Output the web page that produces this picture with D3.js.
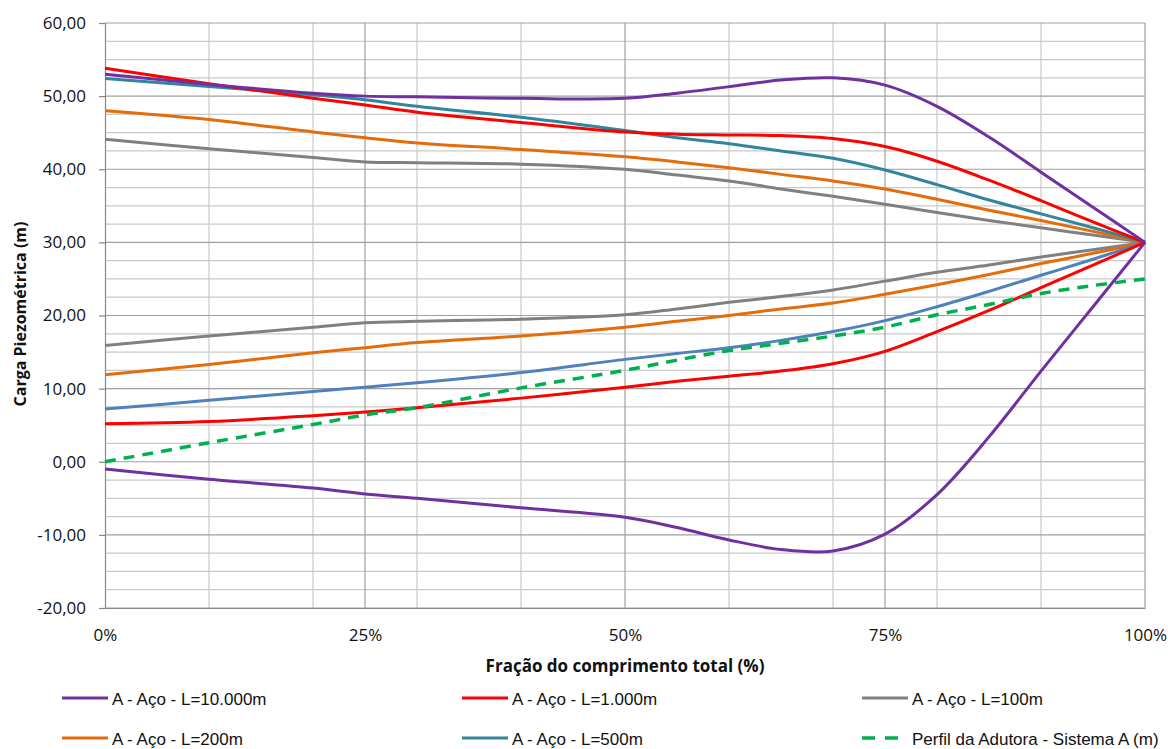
<!DOCTYPE html>
<html>
<head>
<meta charset="utf-8">
<script src="https://cdn.jsdelivr.net/npm/d3@7"></script>
<style>
  html, body { margin: 0; padding: 0; background: #fff; }
  svg { display: block; }
</style>
</head>
<body>
<div id="chart"></div>
<script>
// fraction of total length (x) for every sampled point
const xFrac = [0, 0.1, 0.2, 0.25, 0.3, 0.4, 0.5, 0.55, 0.6, 0.65, 0.7, 0.75, 0.8, 0.85, 0.9, 0.95, 1];

// upper envelopes (m)
const purpleUp = [53.0, 51.6, 50.4, 50.0, 49.9, 49.7, 49.7, 50.4, 51.3, 52.2, 52.5, 51.5, 48.6, 44.4, 39.6, 34.8, 30.0];
const redUp    = [53.8, 51.7, 49.7, 48.8, 47.8, 46.4, 45.1, 44.8, 44.7, 44.6, 44.2, 43.1, 41.1, 38.5, 35.7, 32.8, 30.0];
const tealUp   = [52.4, 51.3, 50.2, 49.5, 48.6, 47.1, 45.3, 44.3, 43.5, 42.5, 41.5, 39.9, 37.9, 35.8, 33.9, 32.0, 30.0];
const orangeUp = [48.0, 46.8, 45.1, 44.3, 43.6, 42.7, 41.7, 41.0, 40.2, 39.3, 38.4, 37.3, 35.9, 34.4, 33.0, 31.5, 30.0];
const grayUp   = [44.1, 42.8, 41.6, 41.0, 40.9, 40.7, 40.0, 39.2, 38.4, 37.3, 36.3, 35.2, 34.1, 33.0, 32.0, 31.0, 30.0];

// lower envelopes (m)
const grayLo   = [15.9, 17.2, 18.4, 19.0, 19.2, 19.5, 20.1, 20.9, 21.8, 22.6, 23.5, 24.7, 25.9, 26.9, 28.0, 29.0, 30.0];
const orangeLo = [11.9, 13.3, 14.9, 15.6, 16.3, 17.2, 18.4, 19.2, 20.0, 20.9, 21.7, 22.9, 24.2, 25.6, 27.1, 28.5, 30.0];
const blueLo   = [7.2, 8.4, 9.6, 10.2, 10.8, 12.2, 14.0, 14.8, 15.6, 16.6, 17.8, 19.3, 21.2, 23.3, 25.5, 27.7, 30.0];
const redLo    = [5.2, 5.5, 6.3, 6.8, 7.4, 8.7, 10.2, 11.0, 11.7, 12.4, 13.4, 15.1, 17.8, 20.7, 23.8, 26.9, 30.0];
const purpleLo = [-1.0, -2.4, -3.6, -4.4, -5.0, -6.3, -7.6, -9.0, -10.7, -12.0, -12.2, -9.9, -4.5, 3.4, 12.4, 21.2, 30.0];

// pipeline profile
const perfil   = [0, 2.6, 5.1, 6.4, 7.4, 10.1, 12.5, 13.9, 15.2, 16.2, 17.2, 18.4, 20.1, 21.5, 23.0, 24.1, 25.0];

const yTicks = [-20, -10, 0, 10, 20, 30, 40, 50, 60];
const xTicks = [0, 0.25, 0.5, 0.75, 1];

const colors = {
  purple: '#7030a0',
  red: '#ff0000',
  gray: '#808080',
  orange: '#e46c0a',
  teal: '#31859c',
  blue: '#4f81bd',
  green: '#00b050'
};

// drawing order
const series = [
  { values: grayUp, color: colors.gray },
  { values: grayLo, color: colors.gray },
  { values: orangeUp, color: colors.orange },
  { values: orangeLo, color: colors.orange },
  { values: tealUp, color: colors.teal },
  { values: blueLo, color: colors.blue },
  { values: redUp, color: colors.red },
  { values: redLo, color: colors.red },
  { values: perfil, color: colors.green, dash: '11 8' },
  { values: purpleUp, color: colors.purple },
  { values: purpleLo, color: colors.purple }
];

const legendItems = [
  { name: 'A - Aço - L=10.000m', color: colors.purple },
  { name: 'A - Aço - L=1.000m', color: colors.red },
  { name: 'A - Aço - L=100m', color: colors.gray },
  { name: 'A - Aço - L=200m', color: colors.orange },
  { name: 'A - Aço - L=500m', color: colors.teal },
  { name: 'Perfil da Adutora - Sistema A (m)', color: colors.green, dash: '13 10' }
];

const width = 1168, height = 749;
const plot = { left: 105, right: 1145, top: 23, bottom: 608 };

const svg = d3.select('#chart').append('svg')
  .attr('width', width)
  .attr('height', height);

const x = d3.scaleLinear().domain([0, 1]).range([plot.left, plot.right]);
const y = d3.scaleLinear().domain([-20, 60]).range([plot.bottom, plot.top]);

// Gridlines
const grid = svg.append('g');
grid.selectAll('.hminor')
  .data(d3.range(-20, 60.1, 2.5).filter(v => v % 10 !== 0))
  .join('line')
  .attr('x1', plot.left).attr('x2', plot.right)
  .attr('y1', d => y(d)).attr('y2', d => y(d))
  .attr('stroke', '#cacaca').attr('stroke-width', 1.2);
grid.selectAll('.vminor')
  .data(d3.range(0.1, 1, 0.1).filter(v => Math.abs(v * 4 - Math.round(v * 4)) > 1e-6))
  .join('line')
  .attr('y1', plot.top).attr('y2', plot.bottom)
  .attr('x1', d => x(d)).attr('x2', d => x(d))
  .attr('stroke', '#cacaca').attr('stroke-width', 1.2);
grid.selectAll('.hmajor')
  .data(yTicks)
  .join('line')
  .attr('x1', plot.left).attr('x2', plot.right)
  .attr('y1', d => y(d)).attr('y2', d => y(d))
  .attr('stroke', '#a0a0a0').attr('stroke-width', 1.2);
grid.selectAll('.vmajor')
  .data(xTicks.slice(1))
  .join('line')
  .attr('y1', plot.top).attr('y2', plot.bottom)
  .attr('x1', d => x(d)).attr('x2', d => x(d))
  .attr('stroke', '#a0a0a0').attr('stroke-width', 1.2);

// Axes
const yAxis = svg.append('g')
  .attr('transform', `translate(${plot.left},0)`)
  .call(d3.axisLeft(y)
    .tickValues(yTicks)
    .tickSize(6)
    .tickPadding(13)
    .tickFormat(d => d3.format('.2f')(d).replace('.', ',').replace('−', '-')));
yAxis.select('.domain').attr('stroke', '#888').attr('stroke-width', 1.2);
yAxis.selectAll('.tick line').attr('stroke', '#888').attr('stroke-width', 1.2);
yAxis.selectAll('text')
  .attr('font-family', '"Open Sans", sans-serif')
  .attr('font-size', 17)
  .attr('fill', '#111');

const xAxis = svg.append('g')
  .attr('transform', `translate(0,${plot.bottom})`)
  .call(d3.axisBottom(x)
    .tickValues(xTicks)
    .tickSize(0)
    .tickPadding(21)
    .tickFormat(d3.format('.0%')));
xAxis.select('.domain').attr('stroke', '#888').attr('stroke-width', 1.2);
xAxis.selectAll('text')
  .attr('font-family', '"Open Sans", sans-serif')
  .attr('font-size', 17)
  .attr('fill', '#111');

// Axis titles
svg.append('text')
  .attr('transform', 'translate(26,314) rotate(-90)')
  .attr('text-anchor', 'middle')
  .attr('font-family', '"Open Sans", sans-serif')
  .attr('font-weight', 'bold')
  .attr('font-size', 16)
  .attr('fill', '#111')
  .text('Carga Piezométrica (m)');

svg.append('text')
  .attr('x', 625)
  .attr('y', 672)
  .attr('text-anchor', 'middle')
  .attr('font-family', '"Open Sans", sans-serif')
  .attr('font-weight', 'bold')
  .attr('font-size', 17)
  .attr('fill', '#111')
  .text('Fração do comprimento total (%)');

// Lines
const line = d3.line()
  .x(d => x(d[0]))
  .y(d => y(d[1]))
  .curve(d3.curveCatmullRom.alpha(0.5));

svg.append('g')
  .selectAll('path')
  .data(series)
  .join('path')
  .attr('d', s => line(xFrac.map((f, i) => [f, s.values[i]])))
  .attr('fill', 'none')
  .attr('stroke', s => s.color)
  .attr('stroke-width', s => s.dash ? 3.5 : 3)
  .attr('stroke-dasharray', s => s.dash || null)
  .attr('stroke-linejoin', 'round');

// Legend (3 columns x 2 rows)
const legend = svg.append('g');
const colX = [62, 462, 862];
const rowY = [698, 738];

const item = legend.selectAll('g')
  .data(legendItems)
  .join('g')
  .attr('transform', (d, i) => `translate(${colX[i % 3]},${rowY[Math.floor(i / 3)]})`);

item.append('line')
  .attr('x1', 0).attr('x2', d => d.dash ? 36 : 46)
  .attr('y1', 0).attr('y2', 0)
  .attr('stroke', d => d.color)
  .attr('stroke-width', d => d.dash ? 3.5 : 3)
  .attr('stroke-dasharray', d => d.dash || null);

item.append('text')
  .attr('x', 50)
  .attr('y', 7)
  .attr('font-family', '"Liberation Sans", Arial, sans-serif')
  .attr('font-size', 17)
  .attr('fill', '#111')
  .text(d => d.name);
</script>
</body>
</html>
